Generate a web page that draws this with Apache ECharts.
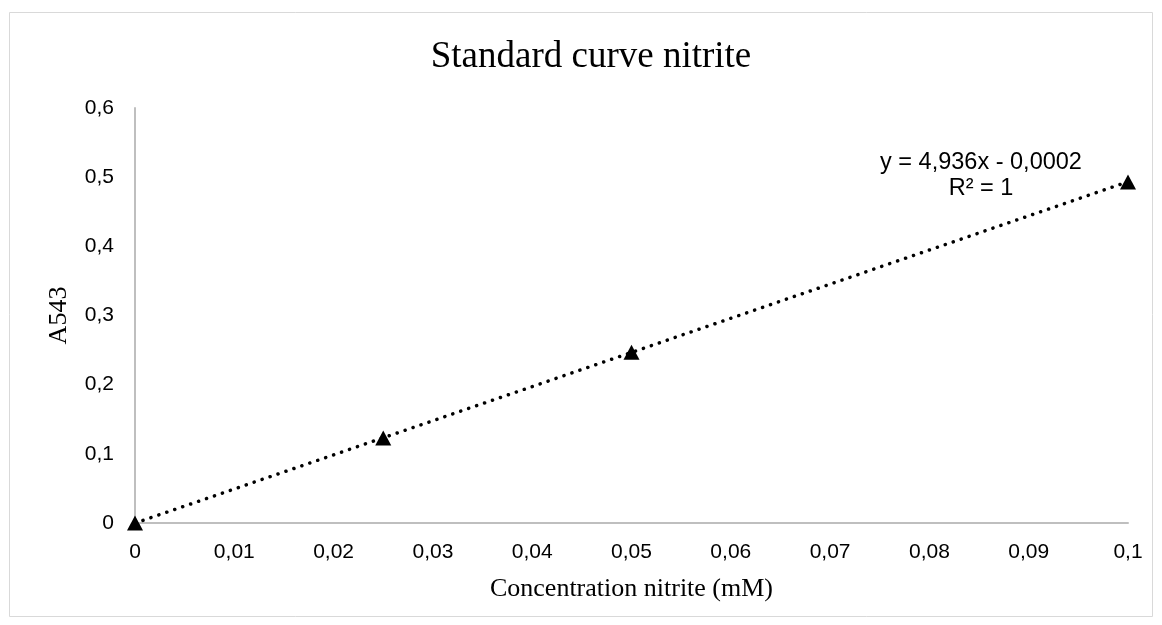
<!DOCTYPE html>
<html>
<head>
<meta charset="utf-8">
<script src="https://cdn.jsdelivr.net/npm/echarts@6/dist/echarts.min.js"></script>
<style>
  html, body { margin: 0; padding: 0; background: #fff; }
  #chart { width: 1162px; height: 625px; }
</style>
</head>
<body>
<div id="chart"></div>
<script>
// measured points
var concentration = [0, 0.025, 0.05, 0.1];
var absorbance = [0, 0.123, 0.247, 0.493];
// linear trendline as given on the chart
var slope = 4.936;
var intercept = -0.0002;
var trendX = [0, 0.1];

var fmt = function (v) {
    return String(+v.toFixed(3)).replace('.', ',');
};

var points = [];
for (var i = 0; i < concentration.length; i++) {
    points.push([concentration[i], absorbance[i]]);
}
var trend = [];
for (var j = 0; j < trendX.length; j++) {
    trend.push([trendX[j], slope * trendX[j] + intercept]);
}

var myChart = echarts.init(document.getElementById('chart'));
var option = {
    backgroundColor: '#fff',
    animation: false,
    grid: { left: 135, right: 34, top: 108, bottom: 102 },
    xAxis: {
        type: 'value',
        min: 0, max: 0.1, interval: 0.01,
        name: 'Concentration nitrite (mM)',
        nameLocation: 'middle',
        nameGap: 53,
        nameTextStyle: { fontFamily: 'Liberation Serif', fontSize: 26, color: '#000' },
        axisLine: { lineStyle: { color: '#bfbfbf', width: 2 } },
        axisTick: { show: false },
        splitLine: { show: false },
        axisLabel: { formatter: fmt, margin: 19, fontFamily: 'Liberation Sans', fontSize: 21, color: '#000' }
    },
    yAxis: {
        type: 'value',
        min: 0, max: 0.6, interval: 0.1,
        name: 'A543',
        nameLocation: 'middle',
        nameGap: 63,
        nameTextStyle: { fontFamily: 'Liberation Serif', fontSize: 26, color: '#000' },
        axisLine: { show: true, lineStyle: { color: '#bfbfbf', width: 2 } },
        axisTick: { show: false },
        splitLine: { show: false },
        axisLabel: { formatter: fmt, margin: 21, fontFamily: 'Liberation Sans', fontSize: 21, color: '#000' }
    },
    graphic: [
        { type: 'rect', shape: { x: 9.5, y: 12.5, width: 1143, height: 604 },
          style: { fill: 'none', stroke: '#d9d9d9', lineWidth: 1 }, silent: true },
        { type: 'text', x: 591, y: 57,
          style: { text: 'Standard curve nitrite', fontFamily: 'Liberation Serif', fontSize: 37,
                   fill: '#000', align: 'center', verticalAlign: 'middle' } },
        { type: 'text', x: 981, y: 163,
          style: { text: 'y = 4,936x - 0,0002', fontFamily: 'Liberation Sans', fontSize: 23.5,
                   fill: '#000', align: 'center', verticalAlign: 'middle' } },
        { type: 'text', x: 981, y: 189,
          style: { text: 'R² = 1', fontFamily: 'Liberation Sans', fontSize: 23.5,
                   fill: '#000', align: 'center', verticalAlign: 'middle' } }
    ],
    series: [
        {
            type: 'line',
            data: trend,
            symbol: 'none',
            lineStyle: { color: '#000', width: 3.5, type: [0.1, 8.3], cap: 'round' },
            z: 2
        },
        {
            type: 'scatter',
            data: points,
            symbol: 'triangle',
            symbolSize: [16, 15],
            itemStyle: { color: '#000', opacity: 1 },
            z: 3
        }
    ]
};
myChart.setOption(option);
</script>
</body>
</html>
